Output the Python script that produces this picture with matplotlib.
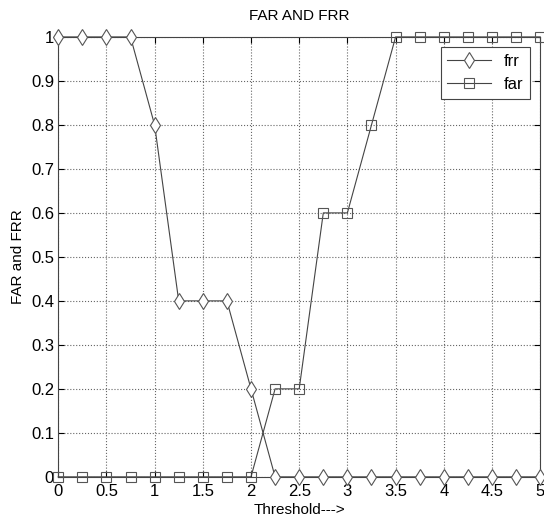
import matplotlib
matplotlib.use('Agg')
import matplotlib.pyplot as plt
import numpy as np

plt.rcParams['font.family'] = ['Liberation Sans', 'DejaVu Sans']

threshold = np.arange(0, 5.01, 0.25)
frr = [1, 1, 1, 1, 0.8, 0.4, 0.4, 0.4, 0.2, 0, 0, 0, 0, 0, 0, 0, 0, 0, 0, 0, 0]
far = [0, 0, 0, 0, 0, 0, 0, 0, 0, 0.2, 0.2, 0.6, 0.6, 0.8, 1, 1, 1, 1, 1, 1, 1]

fig = plt.figure(figsize=(5.44, 5.2), dpi=100)
ax = fig.add_axes([0.107, 0.083, 0.886, 0.846])

ax.plot(threshold, frr, color='#444444', linewidth=0.8, marker='d', markersize=8,
        markerfacecolor='white', markeredgecolor='#555555', markeredgewidth=0.8,
        label='frr', clip_on=False, zorder=3)
ax.plot(threshold, far, color='#444444', linewidth=0.8, marker='s', markersize=7,
        markerfacecolor='none', markeredgecolor='#555555', markeredgewidth=0.8,
        label='far', clip_on=False, zorder=3)

ax.set_xlim(0, 5)
ax.set_ylim(0, 1)
ax.set_xticks(np.arange(0, 5.01, 0.5))
ax.set_xticklabels(['0', '0.5', '1', '1.5', '2', '2.5', '3', '3.5', '4', '4.5', '5'])
ax.set_yticks(np.arange(0, 1.01, 0.1))
ax.set_yticklabels(['0', '0.1', '0.2', '0.3', '0.4', '0.5', '0.6', '0.7', '0.8', '0.9', '1'])
ax.tick_params(direction='in', top=True, right=True, labelsize=12, length=4)
ax.tick_params(axis='x', pad=5)
ax.tick_params(axis='y', pad=3)
ax.grid(True, linestyle=':', color='#666666', linewidth=0.8)
for s in ax.spines.values():
    s.set_color('#444444')
    s.set_linewidth(0.8)

ax.set_title('FAR AND FRR', fontsize=11, pad=12)
ax.set_xlabel('Threshold--->', fontsize=11, labelpad=3)
ax.set_ylabel('FAR and FRR', fontsize=11, labelpad=4)

leg = ax.legend(loc='upper right', fancybox=False, framealpha=1, edgecolor='#444444',
                fontsize=12, handlelength=2.6, borderaxespad=0.6, borderpad=0.4)
leg.get_frame().set_linewidth(0.8)

fig.savefig('out.png', dpi=100)
